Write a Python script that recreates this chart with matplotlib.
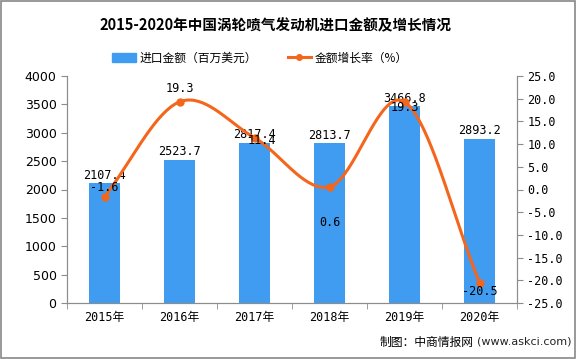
import numpy as np
import matplotlib
matplotlib.use("Agg")
import matplotlib.pyplot as plt
from matplotlib.lines import Line2D
from matplotlib.patches import Patch, Rectangle

plt.rcParams['font.family'] = ['DejaVu Sans', 'Noto Sans CJK SC']

years = ['2015年', '2016年', '2017年', '2018年', '2019年', '2020年']
amount = [2107.4, 2523.7, 2817.4, 2813.7, 3466.8, 2893.2]
growth = [-1.6, 19.3, 11.4, 0.6, 19.3, -20.5]
amount_labels = ['2107.4', '2523.7', '2817.4', '2813.7', '3466.8', '2893.2']
growth_labels = ['-1.6', '19.3', '11.4', '0.6', '19.3', '-20.5']
left_ticks = [0, 500, 1000, 1500, 2000, 2500, 3000, 3500, 4000]
right_ticks = [-25, -20, -15, -10, -5, 0, 5, 10, 15, 20, 25]

bar_color = '#3f9cf0'
line_color = '#f4661b'
grey = '#8c8c8c'
mono = ['DejaVu Sans Mono', 'Noto Sans CJK SC']

fig = plt.figure(figsize=(5.76, 3.59), dpi=100)
ax = fig.add_axes([67/576, 56/359, 450/576, 227/359])
ax2 = ax.twinx()

x = np.arange(len(years))
ax.bar(x, amount, width=0.42, color=bar_color, zorder=2)
ax.set_xlim(-0.5, 5.5)
ax.set_ylim(0, 4000)
ax.set_yticks(left_ticks)
ax.set_xticks(x)
ax.set_xticklabels(years, fontsize=8.5, family=mono)
ax.tick_params(axis='y', labelsize=9, colors='black', length=4, direction='out')
ax.tick_params(axis='x', length=4, direction='out', color=grey, pad=6)
ax.tick_params(axis='y', color=grey)
ax.set_xticks(np.arange(-0.5, 6.0, 1.0), minor=True)
ax.tick_params(axis='x', which='major', length=0)
ax.tick_params(axis='x', which='minor', length=4, color=grey)

for sp in ['top']:
    ax.spines[sp].set_visible(False)
    ax2.spines[sp].set_visible(False)
for a in (ax, ax2):
    a.spines['left'].set_color(grey)
    a.spines['right'].set_color(grey)
    a.spines['bottom'].set_color(grey)

for xi, v, lab in zip(x, amount, amount_labels):
    ax.text(xi, v + 30, lab, ha='center', va='bottom', fontsize=8.5, family=mono, zorder=5)

# smooth curve (Catmull-Rom through the data points)
px = np.array(x, dtype=float)
py = np.array(growth, dtype=float)
P = np.column_stack([px, py])
P_ext = np.vstack([P[0] - (P[1] - P[0]), P, P[-1] + (P[-1] - P[-2])])
curve = []
ts = np.linspace(0, 1, 40)
for i in range(1, len(P_ext) - 2):
    p0, p1, p2, p3 = P_ext[i-1], P_ext[i], P_ext[i+1], P_ext[i+2]
    for t in ts:
        t2, t3 = t*t, t*t*t
        pt = 0.5*((2*p1) + (-p0 + p2)*t + (2*p0 - 5*p1 + 4*p2 - p3)*t2 + (-p0 + 3*p1 - 3*p2 + p3)*t3)
        curve.append(pt)
curve = np.array(curve)
ax2.plot(curve[:, 0], curve[:, 1], color=line_color, lw=2.2, zorder=3)
ax2.plot(px, py, 'o', color=line_color, ms=5, zorder=4)
ax2.set_ylim(-25, 25)
ax2.set_yticks(right_ticks)
ax2.set_yticklabels([f'{t:.1f}' for t in right_ticks], family=mono, fontsize=8.5)
ax2.tick_params(axis='y', length=4, color=grey, direction='out')

offsets = [(0, 9), (0, 13), (7, -3), (0, -36), (0, -6), (0, -9)]
for xi, v, lab, (dx, dy) in zip(px, py, growth_labels, offsets):
    ax2.annotate(lab, (xi, v), xytext=(dx*0.72, dy*0.72), textcoords='offset points',
                 ha='center', va='center', fontsize=8.5, family=mono, zorder=6)

fig.text(0.478, 1 - 25/359, '2015-2020年中国涡轮喷气发动机进口金额及增长情况',
         ha='center', va='center', fontsize=10.5, fontweight='bold',
         family=['Noto Sans CJK SC', 'DejaVu Sans'])

handles = [Patch(color=bar_color), Line2D([0], [0], color=line_color, lw=2.2, marker='o', ms=4)]
fig.legend(handles, ['进口金额（百万美元）', '金额增长率（%）'],
           loc='center', bbox_to_anchor=(260/576, 1 - 58/359), ncol=2, frameon=False,
           prop={'family': ['Noto Sans CJK SC'], 'size': 8.5}, handlelength=2.0,
           columnspacing=2.6, handletextpad=0.3)

fig.text(380/576, 1 - 342/359, '制图：中商情报网', ha='left', va='center', fontsize=8.5,
         family=['Noto Sans CJK SC'])
fig.text(477/576, 1 - 342/359, '(www.askci.com)', ha='left', va='center', fontsize=8,
         color='#222222', family=['DejaVu Sans'])

fig.patches.append(Rectangle((0.001, 0.002), 0.997, 0.995, transform=fig.transFigure,
                             fill=False, edgecolor='#888888', lw=1.2))

fig.savefig('out.png', dpi=100)
